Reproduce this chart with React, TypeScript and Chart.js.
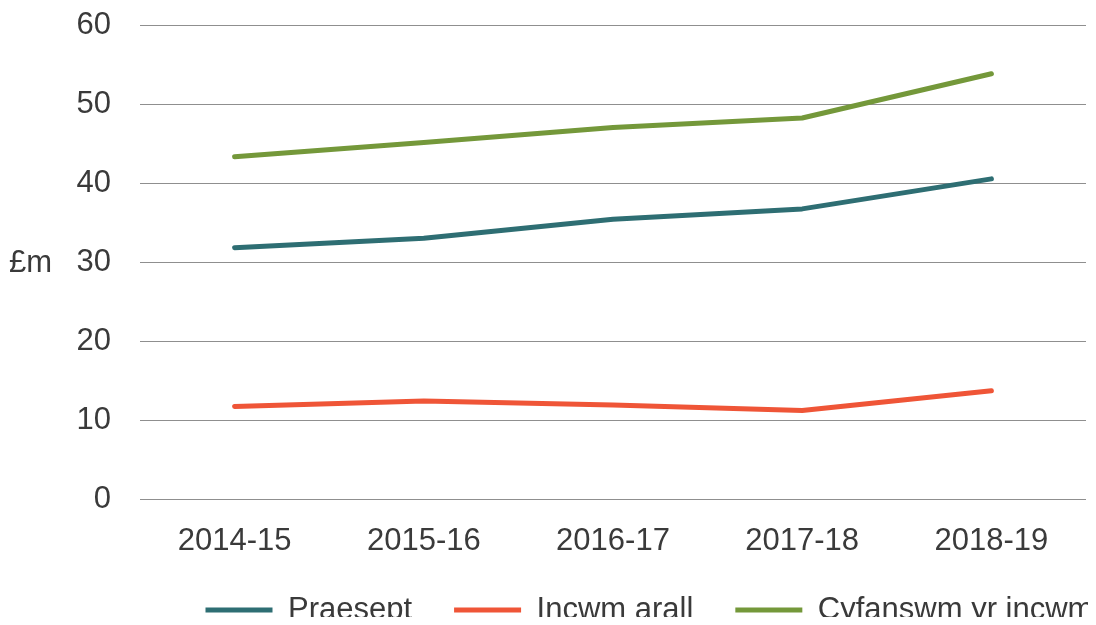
import { useEffect, useRef } from "react";
import { Chart, registerables } from "chart.js";

Chart.register(...registerables);

const categories = ["2014-15", "2015-16", "2016-17", "2017-18", "2018-19"];
const praesept = [31.9, 33.1, 35.5, 36.8, 40.6];
const incwmArall = [11.8, 12.5, 12.0, 11.3, 13.8];
const cyfanswm = [43.4, 45.2, 47.1, 48.3, 53.9];
const seriesNames = ["Praesept", "Incwm arall", "Cyfanswm yr incwm"];
const seriesColors = ["#2E6E73", "#EF5537", "#74983A"];
const yMin = 0;
const yMax = 60;
const yStep = 10;
const yUnit = "£m";

const FONT = '"Liberation Sans", Arial, Helvetica, sans-serif';
const TEXT = "#3a3a3a";
const LEGEND_PAD = 42;

export default function App() {
  const ref = useRef<HTMLCanvasElement | null>(null);

  useEffect(() => {
    if (!ref.current) return;
    const unitPlugin = {
      id: "unitLabel",
      afterLayout(chart: any) {
        const lg = chart.legend;
        if (lg) {
          const w = lg.right - lg.left;
          const h = lg.bottom - lg.top;
          lg.left = 197.5 - LEGEND_PAD;
          lg.right = lg.left + w;
          lg.top = 602 - 15.5 - LEGEND_PAD;
          lg.bottom = lg.top + h;
        }
      },
      afterDraw(chart: any) {
        const ctx = chart.ctx;
        ctx.save();
        ctx.font = `31px ${FONT}`;
        ctx.fillStyle = TEXT;
        ctx.textAlign = "left";
        ctx.textBaseline = "middle";
        ctx.fillText(yUnit, 1, 255);
        ctx.restore();
      },
    };
    const mk = (label: string, data: number[], color: string) => ({
      label,
      data,
      borderColor: color,
      backgroundColor: color,
      borderWidth: 5,
      borderCapStyle: "round" as const,
      borderJoinStyle: "round" as const,
      pointRadius: 0,
      pointHoverRadius: 0,
      pointStyle: "line" as const,
      tension: 0,
      fill: false,
    });
    const chart = new Chart(ref.current, {
      type: "line",
      data: {
        labels: categories,
        datasets: [
          mk(seriesNames[0], praesept, seriesColors[0]),
          mk(seriesNames[1], incwmArall, seriesColors[1]),
          mk(seriesNames[2], cyfanswm, seriesColors[2]),
        ],
      },
      options: {
        responsive: false,
        animation: false,
        devicePixelRatio: 1,
        layout: { padding: { left: 0, right: 10, top: 0, bottom: 0 } },
        plugins: {
          legend: {
            position: "bottom",
            align: "start",
            labels: {
              usePointStyle: true,
              pointStyleWidth: 67,
              padding: LEGEND_PAD,
              color: TEXT,
              font: { family: FONT, size: 31 },
            },
          },
          tooltip: { enabled: false },
        },
        scales: {
          x: {
            offset: true,
            grid: { display: false, drawTicks: false },
            border: { display: false },
            ticks: {
              padding: 23,
              color: TEXT,
              maxRotation: 0,
              font: { family: FONT, size: 31 },
            },
          },
          y: {
            min: yMin,
            max: yMax,
            afterFit(scale: any) {
              scale.width = 132;
              scale.paddingTop = 17.5;
            },
            grid: { color: "#8f8f8f", lineWidth: 1, drawTicks: false },
            border: { display: false },
            ticks: {
              stepSize: yStep,
              padding: 29,
              color: TEXT,
              font: { family: FONT, size: 31, lineHeight: 1.13 },
            },
          },
        },
      },
      plugins: [unitPlugin],
    });
    return () => chart.destroy();
  }, []);

  return (
    <div style={{ width: 1088, height: 617, overflow: "hidden", marginBottom: -8 }}>
      <canvas ref={ref} width={1088} height={658} style={{ display: "block", width: 1088, height: 658 }} />
    </div>
  );
}
